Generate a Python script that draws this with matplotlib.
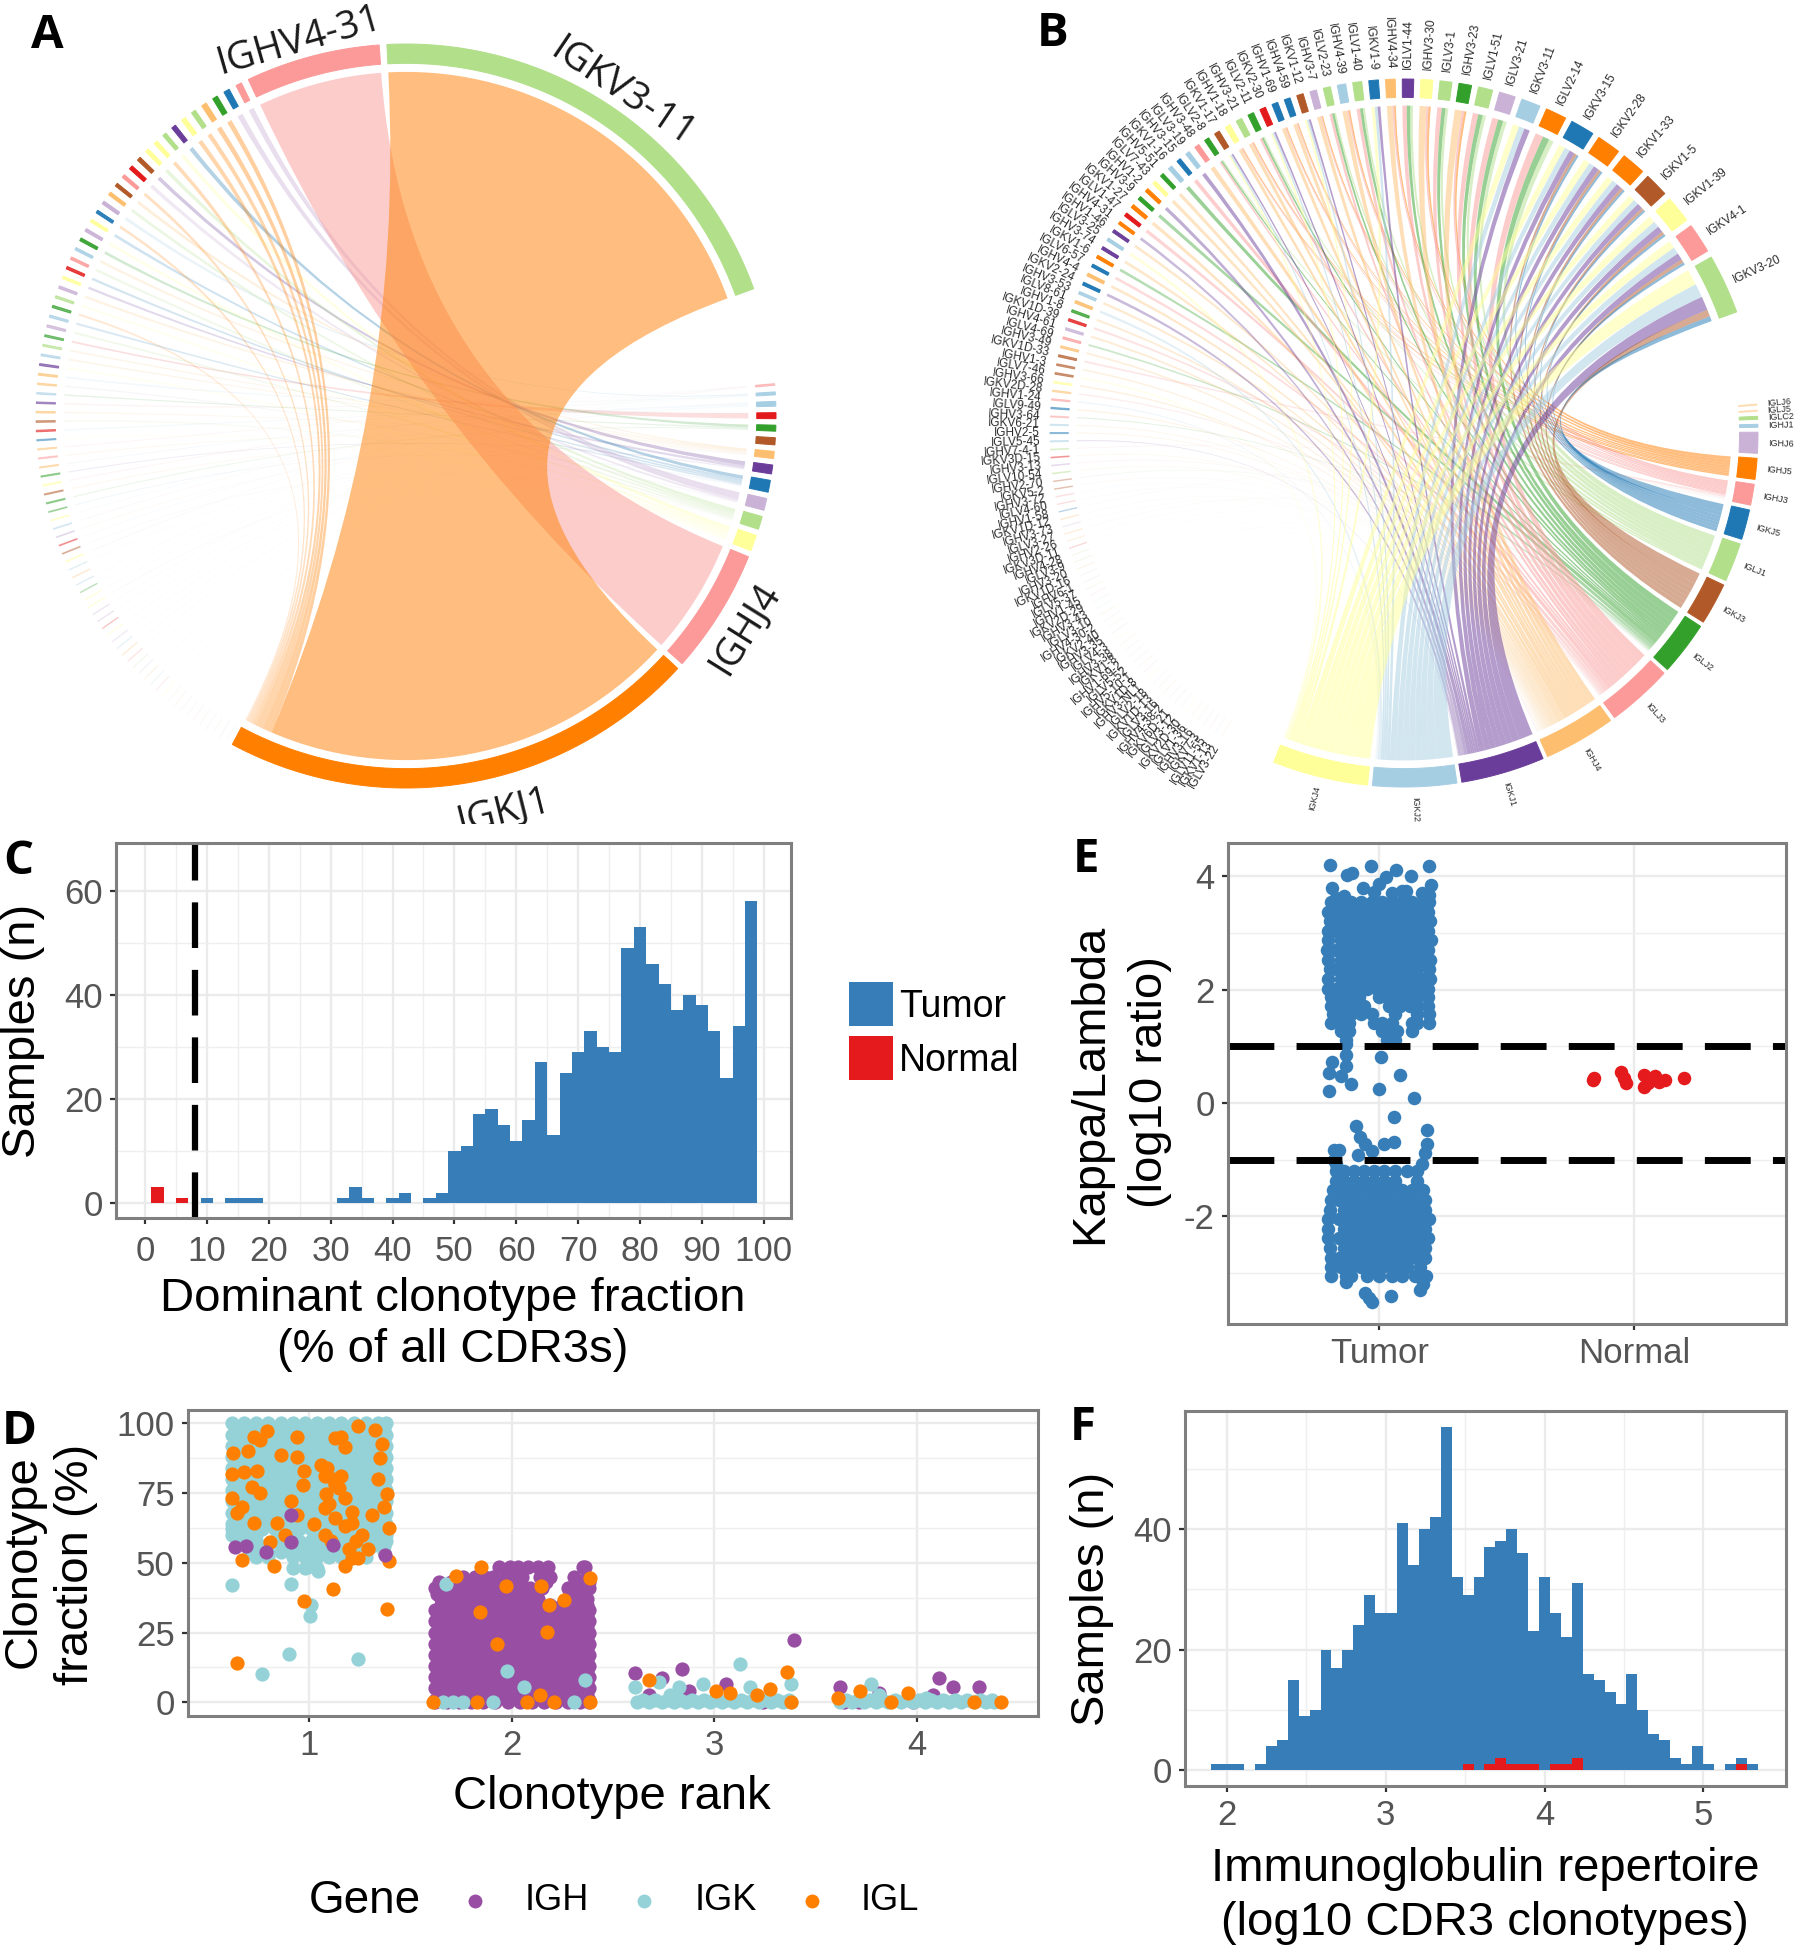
import matplotlib
matplotlib.use("Agg")
import matplotlib.pyplot as plt
import numpy as np
from matplotlib.lines import Line2D
from matplotlib.patches import PathPatch, Polygon, Rectangle
from matplotlib.path import Path

plt.rcParams["font.family"] = ["Liberation Sans", "DejaVu Sans"]
plt.rcParams["axes.unicode_minus"] = False

W, H = 1808, 1950
BLUE, RED = "#377EB8", "#E41A1C"
IGH_C, IGK_C, IGL_C = "#984EA3", "#94D2D8", "#FF7F00"
paired = ["#A6CEE3", "#1F78B4", "#B2DF8A", "#33A02C", "#FB9A99", "#E31A1C",
          "#FDBF6F", "#FF7F00", "#CAB2D6", "#6A3D9A", "#FFFF99", "#B15928"]

# panel A, V genes from the largest going counter-clockwise
a_v_weights = [71, 20.5, .9, .9, .8, .8, .7, .7, .7, .6, .6, .6, .6, .6, .5, .5, .5, .5, .45, .45, .45, .45,
               .4, .4, .4, .4, .4, .35, .35, .35, .35, .3, .3, .3, .3, .3, .25, .25, .25, .25, .25, .25,
               .2, .2, .2, .2, .2, .2, .2, .2, .15, .15, .15, .15, .15, .15, .15,
               .1, .1, .1, .1, .1, .1, .1, .1, .08, .08, .08, .08, .08, .08,
               .05, .05, .05, .05, .05, .05, .02, .02, .02, .02, .02, .02, .02, .02, .02, .02]
a_v_colors = [2, 4, 4, 1, 3, 6, 2, 10, 9, 2, 10, 10, 11, 5, 4, 11, 6, 8, 1, 10, 8, 3, 0, 4, 5, 10, 8, 2,
              3, 0, 8, 3, 2, 0, 9, 6, 6, 0, 9, 6, 11, 5, 1, 6, 4, 6, 3, 10, 11, 3, 3, 10, 0, 8, 5, 11,
              10, 0, 6, 0, 3, 10, 10, 8, 8, 5, 10, 8, 0, 6, 4, 2, 8, 6, 0, 4, 10, 2, 6, 8, 0, 4, 6, 8, 2, 4, 0]
a_v_targets = [13, 12,
               9, 9, 13, 13, 13, 13, 8, 11, 13, 10, 7, 9, 13, 6, 10, 1, 13, 8, 11, 4,
               6, 10, 8, 7, 6, 11, 13, 8, 10, 3, 6, 6, 11, 1, 9, 4, 0, 6, 10, 1,
               11, 0, 6, 2, 7, 0, 6, 4, 8, 1, 0, 6, 2, 10, 0, 6, 11, 0, 1, 6,
               8, 0, 6, 10, 0, 0, 6, 9, 0, 6, 11, 0, 6, 8, 0, 11, 6, 0, 9, 6,
               0, 10, 0, 6, 8]
a_j_weights = [.3, .5, .8, 1, 1, 1.2, 1.2, 1.5, 2, 2, 2.2, 2.7, 21, 81]
a_j_colors = [4, 0, 0, 5, 3, 11, 6, 9, 1, 8, 2, 10, 4, 7]
a_label_names = ["IGKV3-11", "IGHV4-31", "IGHJ4", "IGKJ1"]
a_label_angles = [34, -16, 122, 166]
a_label_radii = [1.047, 1.05, 1.08, 1.094]

# panel B
b_v_names = ["IGKV3-20", "IGKV4-1", "IGKV1-39", "IGKV1-5", "IGKV1-33", "IGKV2-28", "IGKV3-15", "IGLV2-14",
             "IGKV3-11", "IGLV3-21", "IGLV1-51", "IGHV3-23", "IGLV3-1", "IGHV3-30", "IGLV1-44", "IGHV4-34",
             "IGKV1-9", "IGLV1-40", "IGHV4-39", "IGLV2-23", "IGHV3-7", "IGKV1-12", "IGHV4-59", "IGHV1-69",
             "IGKV2-30", "IGLV2-11", "IGHV3-21", "IGHV1-18", "IGKV1-17", "IGLV2-8", "IGHV3-48", "IGLV3-19",
             "IGHV3-15", "IGKV1-16", "IGHV5-51", "IGLV7-43", "IGHV1-2", "IGHV3-9", "IGKV1-27", "IGLV1-47",
             "IGHV4-31", "IGHV1-46", "IGLV3-25", "IGHV3-74", "IGKV1-6", "IGLV6-57", "IGHV4-4", "IGKV2-24",
             "IGHV3-53", "IGLV8-61", "IGHV1-8", "IGKV1D-39", "IGHV4-61", "IGLV4-69", "IGHV3-49", "IGKV1D-33",
             "IGHV1-3", "IGLV7-46", "IGHV3-66", "IGKV2D-28", "IGHV1-24", "IGLV9-49", "IGHV3-64", "IGKV6-21",
             "IGHV2-5", "IGLV5-45", "IGHV7-4-1", "IGKV3D-15", "IGHV3-13", "IGLV10-54", "IGHV2-70", "IGKV5-2",
             "IGHV3-72", "IGLV4-60", "IGHV1-58", "IGKV1D-12", "IGHV3-73", "IGLV3-27", "IGHV2-26", "IGKV3D-11",
             "IGHV4-28", "IGLV3-9", "IGHV3-20", "IGKV1D-16", "IGHV6-1", "IGLV5-37", "IGHV1-45", "IGKV2D-29",
             "IGHV3-43", "IGLV3-10", "IGHV4-30-2", "IGKV2-40", "IGHV3-35", "IGLV4-3", "IGHV3-38", "IGKV1-8",
             "IGHV1-69-2", "IGLV5-52", "IGHV5-10-1", "IGKV1D-8", "IGHV3-NL1", "IGLV2-18", "IGKV1D-13", "IGLV3-16",
             "IGHV4-38-2", "IGKV6D-21", "IGLV3-12", "IGKV2D-30", "IGLV1-36", "IGHV3-16", "IGKV7-3", "IGLV11-55",
             "IGKV1-13", "IGLV3-22"]
b_v_weights = [10, 5, 4.5, 4, 4, 4, 4, 3.5, 3.2, 2.7, 2.4, 2.1, 2, 2, 1.9, 1.6, 1.6, 1.5, 1.4, 1.2, 1.1, 1.1,
               1, 1, 1, 1, 1, .9, .9, .8, .8, .7, .7, .7, .6, .6, .6, .6, .6, .6,
               .5, .5, .5, .5, .5, .5, .5, .5, .45, .45, .4, .4, .4, .35, .35, .35, .3, .3, .3, .25,
               .25, .25, .2, .2, .2, .2, .15, .15, .15, .15, .12, .12, .1, .1, .1, .1, .08, .08, .06, .06,
               .05, .05, .05, .04, .04, .04, .03, .03, .03, .03,
               .02, .02, .02, .02, .02, .02, .02, .02, .02, .02, .02, .02,
               .02, .02, .02, .02, .02, .02, .02, .02, .02, .02, .02, .02]
b_v_colors = [2, 4, 10, 11, 7, 7, 1, 7, 0, 8, 2, 3, 2, 10, 9, 6, 1, 2, 0, 2,
              8, 11, 1, 1, 5, 3, 2, 10, 11, 3, 4, 0, 1, 0, 3, 10, 7, 3, 7, 5,
              7, 9, 0, 9, 7, 1, 6, 1, 0, 6, 3, 5, 8, 4, 6, 11, 11, 11, 10, 6,
              4, 1, 4, 0, 1, 0, 2, 5, 8, 2, 11, 11, 4, 4, 1, 6, 8, 6, 6, 5,
              2, 2, 6, 8, 8, 2, 4, 0, 0, 6, 8, 2, 4, 10, 6, 0, 2, 8, 6, 4, 10, 0, 2, 6, 8, 4, 0, 10, 6, 2, 8, 4, 0, 6]
b_big_family = "KKKKKKKLKLLHLHLHKLHLHKHHKLHHKL"
b_family_targets = {"K": [15, 14, 13, 9, 7], "k": [15, 14, 13], "L": [11, 10, 8], "H": [12, 6, 5, 4]}
b_small_targets = [12, 13, 11, 10, 12, 12, 13, 10, 12, 11, 13, 12, 15, 12, 10, 11, 12, 13, 12, 14, 12, 11, 12, 10, 12,
                   6, 12, 15, 12, 11, 14, 12, 10, 12, 12, 13, 6, 12, 11, 12, 10, 12, 14, 12, 6, 12, 12, 10, 11, 12,
                   12, 6, 12, 14, 12, 10, 12, 6, 12, 12, 14, 12, 6, 12, 10, 12, 12, 6, 12, 15, 12, 12, 6, 12, 10, 12,
                   12, 6, 12, 14, 12, 6, 12, 12]
b_j_names = ["IGLJ6", "IGLJ5", "IGLC2", "IGHJ1", "IGHJ6", "IGHJ5", "IGHJ3", "IGKJ5",
             "IGLJ1", "IGKJ3", "IGLJ2", "IGLJ3", "IGHJ4", "IGKJ1", "IGKJ2", "IGKJ4"]
b_j_weights = [.2, .2, .5, .5, 3.5, 3.5, 3.5, 5, 6.5, 7, 9, 11, 12, 14, 14, 16]
b_j_colors = [6, 6, 2, 0, 8, 7, 4, 1, 2, 11, 3, 4, 6, 9, 0, 10]

# panel C
c_bins = [10, 14, 16, 18, 32, 34, 36, 40, 42, 46, 48, 50, 52, 54, 56, 58, 60, 62, 64, 66, 68,
          70, 72, 74, 76, 78, 80, 82, 84, 86, 88, 90, 92, 94, 96, 98]
c_tumor = [1, 1, 1, 1, 1, 3, 1, 1, 2, 1, 2, 10, 11, 17, 18, 15, 12, 16, 27, 13, 25,
           29, 33, 30, 29, 49, 53, 46, 42, 37, 40, 38, 33, 24, 34, 58]
c_normal_bins = [2, 6]
c_normal = [3, 1]
c_cutoff = 8

# panel D, offsets are percent of one rank unit
d_col_a = [-38, -32, -26, -20, -14, -8, -2, 4, 10, 16, 22, 28, 34, 38]
d_col_b = [-35, -29, -23, -17, -11, -5, 1, 7, 13, 19, 25, 31, 37]
d1_igk_levels = [100, 98, 96, 94, 92, 90, 88, 86, 84, 82, 80, 78, 76, 74, 72, 70, 68, 66, 64]
d1_igk_low_y = [62, 60, 58, 56, 54, 52, 48]
d1_igk_low_x = [[-38, -35, -32, -29, -23, -17, -11, -5, 1, 7, 13, 19, 25, 31, 37],
                [-38, -32, -26, -14, -8, 4, 10, 16, 22, 28, 34, 38],
                [-35, -29, -26, -17, -11, -5, 1, 7, 13, 19, 22, 28, 34, 38],
                [-29, -23, -11, -5, 1, 7, 13, 19, 25, 31, 37],
                [-29, -26, -20, -14, -8, -2, 4, 10, 16, 22, 28, 37],
                [-26, -20, -8, -2, 4, 10, 16, 28],
                [-8, -2, 4]]
d1_igk_x = [-38, -9, 4.3, -.7, 1, .3, -9.7, -23, 24.3]
d1_igk_y = [42, 42.6, 47, 48.4, 35, 31, 17.2, 10.3, 15.7]
d1_igl_x = [-20.7, -37.3, -14, -27.3, -2.3, 7.7, 16, -25.7, -28.3, -35.7, -27.3, -15.7, -19, 12.7, 17.7, 24.3,
            32.7, 36, 35.3, 38.7, 8.3, 21, 11, 21, 24.3, 17.7, -33, -17.3, 39.3, 12, -2.3, 38.7, -35.7, -5.7,
            -32.3, -38, -38, 21, 31, 39.3, -24, -5.7, 16, 12.7, 17.7, 7.7, 2.7, 17.7,
            9, 12, 15, 10, 13, 6, 8, -30, -33, -24, -6, -3, 26, 29, 34, 37, -12, -9, 20, 23]
d1_igl_y = [97.2, 89.5, 88.8, 95.2, 83, 81, 81, 83, 77.3, 67.7, 64.4, 64.4, 57.4, 94.6, 91.4, 99.1,
            97.8, 92.7, 87.5, 74.7, 74.7, 68.3, 58, 51.6, 51.6, 49, 51, 49, 50.6, 40.7, 36.2, 33.6, 14.1, 67,
            82.4, 81.8, 73.4, 64.4, 67, 62.5, 94, 95.2, 95.2, 78, 73.4, 69.6, 63.8, 63.2,
            84, 80, 77, 71, 66, 85, 60, 90, 70, 75, 88, 78, 60, 55, 80, 70, 60, 72, 55, 58]
d1_igh_x = [-9, -36.7, -9, -21.3, 12, 37.7, -31]
d1_igh_y = [67, 55.7, 57.4, 54, 56.5, 52.9, 56]
d2_igh_levels = [35, 33, 31, 29, 27, 25, 23, 21, 19, 17, 15, 13, 11, 9, 7, 5, 3, 1]
d2_igh_top_y = [48.5, 45, 43, 41, 39, 37]
d2_igh_top_x = [[-6, -1, 3, 8, 13, 18, 35, 36],
                [-24, -18, -13, -9, -3, 1, 5, 14, 19, 31, 37],
                [-36, -30, -24, -18, -12, -6, 0, 4, 17, 33, 38],
                [-38, -33, -27, -21, -15, -9, -3, 3, 9, 15, 28, 34, 38],
                [-37, -31, -25, -19, -13, -7, -1, 5, 11, 29, 35],
                [-35, -29, -23, -17, -11, -5, 1, 7, 13, 31, 37]]
d2_igk_x = [-32.3, -34, -29, -24, -9, 31, 36, -2.3, 6]
d2_igk_y = [42.6, 0, 0, 0, 0, 0, 7.9, 11.2, 5.4]
d2_igl_x = [-27.3, -15, -15.7, -3, 14.3, 26, 18.3, 17.7, -7.3, 38.7, 38.7, 7.7, 21, -39, -17.3, 14]
d2_igl_y = [45.2, 48.4, 32.3, 41.6, 41.6, 36.8, 34.9, 25.3, 20.8, 44.5, 0, 0, 0, 0, 0, 2.8]
d3_igh_x = [-39, -15.7, 39.3, 6, -25.7, -12.3, 24.3, -32]
d3_igh_y = [10.5, 11.8, 22.3, 6.7, 8.6, 4.1, 0, 2.8]
d3_igk_x = [12.7, -27.3, -39, -17.3, -5.7, 17.7, 37.7, -22, 1]
d3_igk_y = [13.7, 7.3, 5.4, 5.4, 6.7, 5.4, 6.7, 2.8, 1.5]
d3_igl_x = [36, -32.3, 27.7, 1, 37.7, 7.7, 21]
d3_igl_y = [10.8, 8, 4.7, 4.1, 0, 3.5, 2.8]
d4_igh_x = [10.7, 18, 30.7, -37.7, -28.7, -2, -36, -18.7, 8]
d4_igh_y = [8.6, 5.4, 5.4, 5.4, 0, 0, 0, 3.5, 2.8]
d4_igk_x = [-22.7, -18.7, 4.7]
d4_igk_y = [6.7, 2.8, 1.5]
d4_igl_x = [-28, -4.3, 41.3, -12.7, 28, -38.7]
d4_igl_y = [3.9, 3.5, 0, 0, 0, 1.5]

# panel E, offsets are percent of one category unit
e_rows_y = [3.55, 3.38, 3.21, 3.04, 2.87, 2.7, 2.53, 2.36, 2.19, 2.02, 1.87, 1.72, 1.57, 1.42, 1.27, 1.12,
            -1.2, -1.37, -1.54, -1.71, -1.88, -2.05, -2.22, -2.39, -2.56, -2.73, -2.9, -3.05]
e_rows_x = [[-19, -15, -11, -7, -3, 1, 5, 9, 13, 17, 19.5],
            [-20, -17, -13, -9, -5, -1, 3, 7, 11, 15, 19],
            [-19.5, -15, -11, -7, -3, 1, 5, 9, 13, 17, 20],
            [-20, -17, -13, -9, -5, -1, 3, 7, 11, 15, 19],
            [-20, -15, -11, -7, -3, 1, 5, 9, 13, 17, 20.5],
            [-20.5, -17, -13, -9, -5, -1, 3, 7, 11, 15, 19],
            [-20, -15, -11, -7, -3, 1, 5, 9, 13, 17, 20],
            [-19.5, -17, -13, -9, -5, -1, 3, 7, 11, 15, 19.5],
            [-20, -15, -11, -7, -3, 1, 5, 9, 13, 17, 20],
            [-20, -17, -13, -9, -5, -1, 3, 7, 11, 15, 19],
            [-19, -15, -11, -8, 0, 3, 7, 11, 15, 19],
            [-19, -16, -12, -9, -6, 4, 8, 12, 15, 19],
            [-18, -15, -11, -7, -3, 6, 15, 19.5],
            [-19, -16, -12, -2, 1, 5, 13, 15, 19.5],
            [-15, -12, 1, 4, 7, 13],
            [-13, 3, 6],
            [-17, -14, -10, -6, -2, 2, 6, 11, 15],
            [-17, -14, -10, -6, -2, 2, 6, 15],
            [-18, -15, -11, -7, -3, 1, 5, 9, 13, 17],
            [-19, -16, -12, -8, -4, 0, 4, 8, 12, 16, 18],
            [-19.5, -14, -10, -6, -2, 2, 6, 10, 14, 18],
            [-20, -16, -12, -8, -4, 0, 4, 8, 12, 16, 19.5],
            [-20, -14, -10, -6, -2, 2, 6, 10, 14, 18],
            [-20, -16, -12, -8, -4, 0, 4, 8, 12, 16, 19],
            [-19.5, -14, -10, -6, -2, 2, 6, 10, 14, 18],
            [-19, -16, -12, -8, -4, 0, 4, 8, 12, 15, 18],
            [-19, -15, -11, -7, -3, 1, 5, 8, 11, 16],
            [-19, -13, -11, -5, 0, 5, 9, 14, 18.5]]
e_tumor_x = [-19.4, -3.4, 19.6, 6.6, -10.6, -12.5, 12.3, 2.8, 0, 20.5, -18.7, -6.5, 10.3, 16.8, 19.5, 5, -2, -14, -17,
             9, -13, -13, -18.7, -13, -19.6, -15, -19.6, -11, .5, 8, 0, 13.6, 5.6, -9.3, 18.7, -7.5, 5.6, -5.6, 1.9,
             18.7, -17.8, -16, 17.8, -8.4, -2.8, -17.8, 16.8, -16.8, -13, 16, -5.6, 4.7, -2.8, -4, 17]
e_tumor_y = [4.21, 4.18, 4.18, 4.12, 4.06, 4.03, 4.0, 3.99, 3.87, 3.84, 3.8, 3.8, 3.74, 3.7, 3.68, 3.7, 3.72, 3.65, 3.62,
             3.75, 1.04, .85, .72, .66, .53, .47, .22, .33, .82, .5, .25, .09, -.25, -.41, -.47, -.6, -.69, -.72, -.72,
             -.72, -.82, -.82, -.88, -.91, -.85, -1.0, -1.07, -1.07, -3.15, -3.3, -3.36, -3.4, -3.52, -3.44, -3.2]
e_normal_x = [-15.9, -15.5, -5, -4, -3, 4, 4, 6.5, 8.4, 12, 10, 5.5, 19.6]
e_normal_y = [.41, .45, .55, .44, .36, .5, .28, .41, .47, .41, .38, .35, .44]
e_cuts = [1, -1]

# panel F
f_first_bin = 1.9356
f_bin_width = 0.0688
f_tumor = [1, 1, 1, 0, 1, 4, 5, 15, 9, 10, 20, 17, 20, 24, 29, 26, 26, 41, 34, 40, 42, 57, 32, 29, 32,
           37, 38, 40, 36, 23, 32, 26, 22, 31, 16, 15, 13, 11, 16, 10, 6, 5, 2, 1, 4, 1, 0, 1, 2, 1]
f_normal = [0, 0, 0, 0, 0, 0, 0, 0, 0, 0, 0, 0, 0, 0, 0, 0, 0, 0, 0, 0, 0, 0, 0, 1, 0,
            1, 2, 1, 1, 1, 0, 1, 1, 2, 0, 0, 0, 0, 0, 0, 0, 0, 0, 0, 0, 0, 0, 0, 1, 0]

fig = plt.figure(figsize=(W / 100, H / 100), dpi=100)


def axes_px(left, top, right, bottom):
    return fig.add_axes([left / W, 1 - bottom / H, (right - left) / W, (bottom - top) / H])


def text_px(x, y, s, **kw):
    kw.setdefault("ha", "center")
    kw.setdefault("va", "center")
    fig.text(x / W, 1 - y / H, s, **kw)


def polar(angle, r):
    return r * np.sin(np.radians(angle)), r * np.cos(np.radians(angle))


def arc(a, b, r):
    ts = np.linspace(a, b, max(2, int(abs(b - a) * 1.5) + 2))
    return list(zip(*polar(ts, r)))


def chord(ax, v_w, v_c, v_t, v_span, j_w, j_c, j_span, gap, j_gap, full_width):
    # v sectors run counter-clockwise from v_span[1], j sectors clockwise from j_span[0]
    v_scale = (v_span[1] - v_span[0] - gap * (len(v_w) - 1)) / sum(v_w)
    j_scale = (j_span[1] - j_span[0] - j_gap * (len(j_w) - 1)) / sum(j_w)
    v_pos, j_pos = [], []
    end = v_span[1]
    for w in v_w:
        v_pos.append((end - w * v_scale, end))
        end -= w * v_scale + gap
    start = j_span[0]
    for w in j_w:
        j_pos.append((start, start + w * j_scale))
        start += w * j_scale + j_gap

    links = []
    for i, targets in enumerate(v_t):
        total = sum(j_w[t] for t in targets)
        for t in targets:
            links.append([i, t, v_w[i] * j_w[t] / total])
    j_ends = {}
    for j in range(len(j_w)):
        mine = sorted([l for l in links if l[1] == j], key=lambda l: l[0])
        total = sum(l[2] for l in mine)
        cur = j_pos[j][0]
        for l in mine:
            step = l[2] / total * (j_pos[j][1] - j_pos[j][0])
            j_ends[(l[0], j)] = (cur, cur + step)
            cur += step

    r_link = 0.925
    for i in reversed(range(len(v_w))):
        cur = v_pos[i][0]
        width = v_pos[i][1] - v_pos[i][0]
        fade = max(0.03, 0.5 * min(1, width / full_width))
        mine = sorted([l for l in links if l[0] == i], key=lambda l: -l[1])
        total = sum(l[2] for l in mine)
        for l in mine:
            step = l[2] / total * width
            a, b = cur, cur + step
            ja, jb = j_ends[(i, l[1])]
            cur = b
            top, bottom = arc(a, b, r_link), arc(ja, jb, r_link)
            verts = top + [(0, 0), bottom[0]] + bottom[1:] + [(0, 0), top[0]]
            codes = [Path.MOVETO] + [Path.LINETO] * (len(top) - 1) + [Path.CURVE3, Path.CURVE3] + \
                    [Path.LINETO] * (len(bottom) - 1) + [Path.CURVE3, Path.CURVE3]
            ax.add_patch(PathPatch(Path(verts, codes), fc=paired[j_c[l[1]]], alpha=fade, lw=0))

    for pos, cols in ((v_pos, v_c), (j_pos, j_c)):
        for (a, b), c in zip(pos, cols):
            ax.add_patch(Polygon(arc(a, b, 1.0) + arc(b, a, 0.948), fc=paired[c], ec=paired[c], lw=0.7,
                                 alpha=max(0.05, min(1, (b - a) / 0.5))))
    return v_pos, j_pos


def chord_axes(box, center, radius):
    ax = axes_px(*box)
    ax.set_xlim((box[0] - center[0]) / radius[0], (box[2] - center[0]) / radius[0])
    ax.set_ylim((center[1] - box[3]) / radius[1], (center[1] - box[1]) / radius[1])
    ax.axis("off")
    return ax


def panel_style(ax):
    ax.set_axisbelow(True)
    ax.grid(which="major", color="#EBEBEB", lw=1.7)
    ax.grid(which="minor", color="#EFEFEF", lw=1.0)
    ax.tick_params(which="major", labelsize=25, labelcolor="#555555", color="#333333", length=4.5, width=1.6, pad=5)
    ax.tick_params(which="minor", length=0)
    for s in ax.spines.values():
        s.set_color("#7F7F7F")
        s.set_linewidth(2.2)


# A
ax_a = chord_axes((0, 0, 930, 824), (406, 416), (370, 372))
a_targets = [[t] for t in a_v_targets]
chord(ax_a, a_v_weights, a_v_colors, a_targets, (-151, 70), a_j_weights, a_j_colors, (85, 208), 1.2, 1.0, 1.1)
for s, mid, radius in zip(a_label_names, a_label_angles, a_label_radii):
    rot = 180 - mid if 90 < mid < 270 else -mid
    x, y = polar(mid, radius)
    ax_a.text(x, y, s, fontsize=28, family="Open Sans", rotation=rot, rotation_mode="anchor",
              ha="center", va="center", color="#1A1A1A", clip_on=True)

# B
ax_b = chord_axes((930, 0, 1808, 830), (1404, 433), (354, 354))
b_targets = []
for fam in b_big_family:
    b_targets.append(b_family_targets[fam])
b_targets[7:] = [b_family_targets["k"] if f == "K" else b_family_targets[f][:3] for f in b_big_family[7:]]
b_targets += [[t] for t in b_small_targets]
b_vp, b_jp = chord(ax_b, b_v_weights, b_v_colors, b_targets, (-149, 70), b_j_weights, b_j_colors, (85.3, 201.6), 1.15, 0.8, 0.7)
for pos, names, size in ((b_vp, b_v_names, 8.5), (b_jp, b_j_names, 6.5)):
    for (a, b), s in zip(pos, names):
        mid = ((a + b) / 2) % 360
        right = mid < 180
        x, y = polar(mid, 1.028)
        ax_b.text(x, y, s, fontsize=size, rotation=90 - mid if right else 270 - mid, rotation_mode="anchor",
                  ha="left" if right else "right", va="center", color="#2A2A2A")

# C
ax_c = axes_px(116, 843, 791.5, 1218)
ax_c.bar(c_bins, c_tumor, width=2, color=BLUE, lw=0)
ax_c.bar(c_normal_bins, c_normal, width=2, color=RED, lw=0)
ax_c.axvline(c_cutoff, color="black", lw=4.5, ls=(0, (7.3, 3.5)))
ax_c.set_xlim(-4.7, 104.5)
ax_c.set_ylim(-2.9, 69.2)
ax_c.set_xticks(range(0, 101, 10))
ax_c.set_xticks(range(5, 100, 10), minor=True)
ax_c.set_yticks([0, 20, 40, 60])
ax_c.set_yticks([10, 30, 50], minor=True)
panel_style(ax_c)
ax_c.tick_params(axis="x", which="major", pad=8)

for y0, c, s in ((982, BLUE, "Tumor"), (1036, RED, "Normal")):
    fig.add_artist(Rectangle((849 / W, 1 - (y0 + 44) / H), 44 / W, 44 / H, transform=fig.transFigure, fc=c, lw=0))
    text_px(899, y0 + 25, s, fontsize=27, ha="left")

# D
ax_d = axes_px(188, 1410, 1038, 1716)


def dots(ax, center, offs, ys, color, size=105):
    ax.scatter(center + np.array(offs) / 100, ys, s=size, color=color, linewidths=0)


for n, lev in enumerate(d1_igk_levels):
    col = d_col_b if n % 2 else d_col_a
    dots(ax_d, 1, col, [lev] * len(col), IGK_C)
for lev, col in zip(d1_igk_low_y, d1_igk_low_x):
    dots(ax_d, 1, col, [lev] * len(col), IGK_C)
dots(ax_d, 1, d1_igk_x, d1_igk_y, IGK_C)
dots(ax_d, 1, d1_igl_x, d1_igl_y, IGL_C)
dots(ax_d, 1, d1_igh_x, d1_igh_y, IGH_C)

for lev, col in zip(d2_igh_top_y, d2_igh_top_x):
    dots(ax_d, 2, col, [lev] * len(col), IGH_C)
for n, lev in enumerate(d2_igh_levels):
    col = d_col_b if n % 2 == 0 else d_col_a
    dots(ax_d, 2, col, [lev] * len(col), IGH_C)
dots(ax_d, 2, d_col_a, [0] * len(d_col_a), IGH_C)
dots(ax_d, 2, d2_igk_x, d2_igk_y, IGK_C)
dots(ax_d, 2, d2_igl_x, d2_igl_y, IGL_C)

for rank, hx, hy, kx, ky, lx, ly in ((3, d3_igh_x, d3_igh_y, d3_igk_x, d3_igk_y, d3_igl_x, d3_igl_y),
                                     (4, d4_igh_x, d4_igh_y, d4_igk_x, d4_igk_y, d4_igl_x, d4_igl_y)):
    dots(ax_d, rank, hx, hy, IGH_C)
    dots(ax_d, rank, d_col_a, [0] * len(d_col_a), IGK_C)
    dots(ax_d, rank, d_col_b, [.8] * len(d_col_b), IGK_C)
    dots(ax_d, rank, kx, ky, IGK_C)
    dots(ax_d, rank, lx, ly, IGL_C)

ax_d.set_xlim(0.403, 4.598)
ax_d.set_ylim(-4.9, 104.8)
ax_d.set_xticks([1, 2, 3, 4])
ax_d.set_yticks([0, 25, 50, 75, 100])
ax_d.set_yticks([12.5, 37.5, 62.5, 87.5], minor=True)
panel_style(ax_d)

text_px(309, 1901, "Gene", fontsize=33, ha="left")
for x, c, tx, s in ((475, IGH_C, 525, "IGH"), (644, IGK_C, 695, "IGK"), (812, IGL_C, 861, "IGL")):
    fig.add_artist(Line2D([x / W], [1 - 1901 / H], marker="o", ms=10, mew=0, ls="", color=c, transform=fig.transFigure))
    text_px(tx, 1901, s, fontsize=26, ha="left")

# E
ax_e = axes_px(1228, 843, 1786, 1324)
for y, row in zip(e_rows_y, e_rows_x):
    dots(ax_e, 1, row, [y] * len(row), BLUE, 95)
dots(ax_e, 1, e_tumor_x, e_tumor_y, BLUE, 95)
dots(ax_e, 2, e_normal_x, e_normal_y, RED, 95)
for y in e_cuts:
    ax_e.axhline(y, color="black", lw=5, ls=(0, (6.6, 3.2)))
ax_e.set_xlim(0.406, 2.597)
ax_e.set_ylim(-3.9, 4.59)
ax_e.set_xticks([1, 2])
ax_e.set_xticklabels(["Tumor", "Normal"])
ax_e.set_yticks([-2, 0, 2, 4])
ax_e.set_yticks([-3, -1, 1, 3], minor=True)
panel_style(ax_e)

# F
ax_f = axes_px(1185, 1411, 1786, 1786)
f_bins = f_first_bin + np.arange(len(f_tumor)) * f_bin_width
ax_f.bar(f_bins, f_tumor, width=f_bin_width, color=BLUE, lw=0)
ax_f.bar(f_bins, f_normal, width=f_bin_width, color=RED, lw=0)
ax_f.set_xlim(1.7355, 5.52)
ax_f.set_ylim(-2.66, 59.6)
ax_f.set_xticks([2, 3, 4, 5])
ax_f.set_xticks([2.5, 3.5, 4.5], minor=True)
ax_f.set_yticks([0, 20, 40])
ax_f.set_yticks([10, 30, 50], minor=True)
panel_style(ax_f)

# axis titles
text_px(453, 1299, "Dominant clonotype fraction", fontsize=34)
text_px(453, 1350, "(% of all CDR3s)", fontsize=34)
text_px(23, 1031, "Samples (n)", fontsize=34, rotation=90)
text_px(24, 1562, "Clonotype", fontsize=34, rotation=90)
text_px(76, 1564, "fraction (%)", fontsize=34, rotation=90)
text_px(612, 1797, "Clonotype rank", fontsize=34)
text_px(1090, 1084, "Kappa/Lambda", fontsize=34, rotation=90)
text_px(1150, 1082, "(log10 ratio)", fontsize=34, rotation=90)
text_px(1092, 1599, "Samples (n)", fontsize=34, rotation=90)
text_px(1485, 1869, "Immunoglobulin repertoire", fontsize=34)
text_px(1485, 1923, "(log10 CDR3 clonotypes)", fontsize=34)

# panel letters
for x, y, s in ((47, 35, "A"), (1053, 33, "B"), (18, 861, "C"), (19, 1431, "D"), (1086, 860, "E"), (1083, 1428, "F")):
    text_px(x, y, s, fontsize=34, fontweight="bold", family="Open Sans")

fig.savefig("out.png", dpi=100)
